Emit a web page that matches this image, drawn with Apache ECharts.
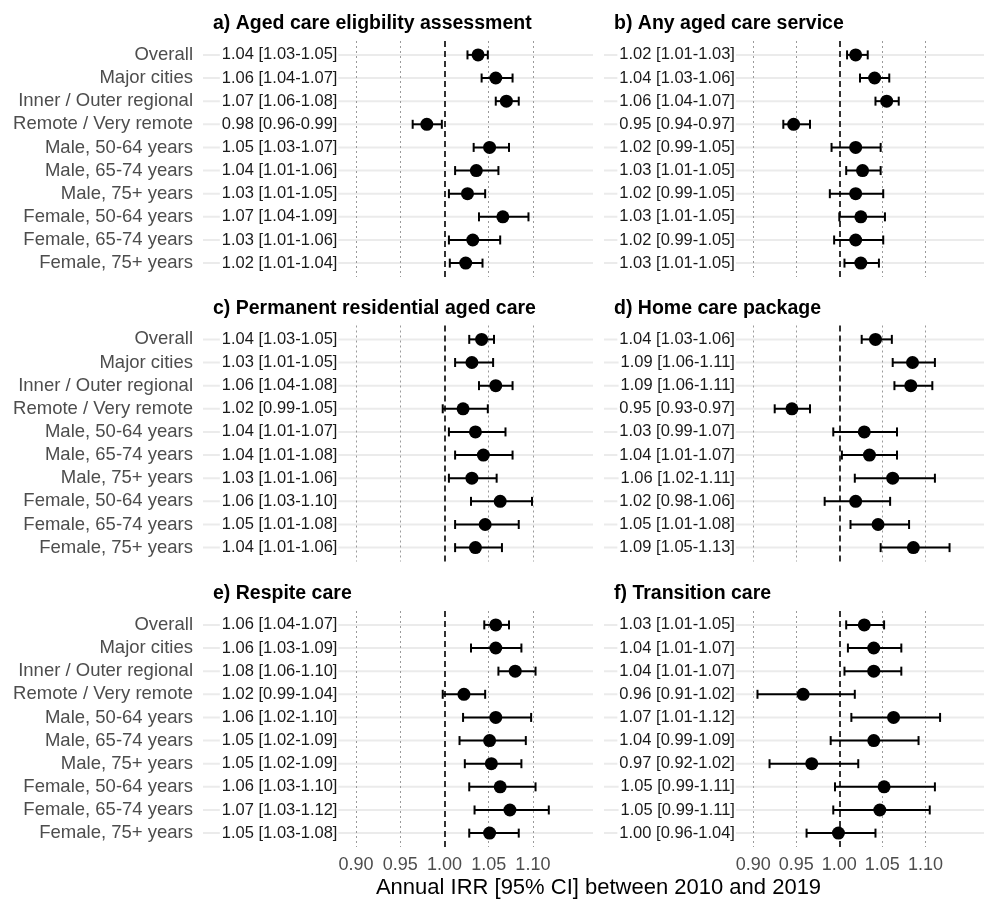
<!DOCTYPE html>
<html>
<head>
<meta charset="utf-8">
<script src="https://cdn.jsdelivr.net/npm/echarts@6/dist/echarts.min.js"></script>
<style>html,body{margin:0;padding:0;background:#fff}#c{width:984px;height:899px}</style>
</head>
<body>
<div id="c"></div>
<script>
const rowLabels = ['Overall','Major cities','Inner / Outer regional','Remote / Very remote','Male, 50-64 years','Male, 65-74 years','Male, 75+ years','Female, 50-64 years','Female, 65-74 years','Female, 75+ years'];
const panelTitles = ['a) Aged care eligbility assessment','b) Any aged care service','c) Permanent residential aged care','d) Home care package','e) Respite care','f) Transition care'];
const xTicks = [0.90, 0.95, 1.00, 1.05, 1.10];
const xAxisTitle = 'Annual IRR [95% CI] between 2010 and 2019';

// a) Aged care eligibility assessment
const estA = [1.038,1.058,1.070,0.980,1.051,1.036,1.026,1.066,1.032,1.024];
const loA  = [1.026,1.042,1.058,0.964,1.033,1.012,1.005,1.039,1.005,1.006];
const hiA  = [1.049,1.077,1.084,0.997,1.073,1.061,1.046,1.095,1.063,1.043];
const txtA = ['1.04 [1.03-1.05]','1.06 [1.04-1.07]','1.07 [1.06-1.08]','0.98 [0.96-0.99]','1.05 [1.03-1.07]','1.04 [1.01-1.06]','1.03 [1.01-1.05]','1.07 [1.04-1.09]','1.03 [1.01-1.06]','1.02 [1.01-1.04]'];
// b) Any aged care service
const estB = [1.019,1.041,1.055,0.947,1.019,1.027,1.019,1.025,1.019,1.025];
const loB  = [1.009,1.024,1.042,0.935,0.991,1.008,0.989,1.000,0.994,1.006];
const hiB  = [1.033,1.058,1.069,0.966,1.048,1.048,1.051,1.053,1.051,1.046];
const txtB = ['1.02 [1.01-1.03]','1.04 [1.03-1.06]','1.06 [1.04-1.07]','0.95 [0.94-0.97]','1.02 [0.99-1.05]','1.03 [1.01-1.05]','1.02 [0.99-1.05]','1.03 [1.01-1.05]','1.02 [0.99-1.05]','1.03 [1.01-1.05]'];
// c) Permanent residential aged care
const estC = [1.042,1.031,1.058,1.021,1.035,1.044,1.031,1.063,1.046,1.035];
const loC  = [1.028,1.012,1.039,0.998,1.005,1.012,1.005,1.030,1.012,1.012];
const hiC  = [1.056,1.055,1.077,1.049,1.069,1.077,1.059,1.099,1.084,1.065];
const txtC = ['1.04 [1.03-1.05]','1.03 [1.01-1.05]','1.06 [1.04-1.08]','1.02 [0.99-1.05]','1.04 [1.01-1.07]','1.04 [1.01-1.08]','1.03 [1.01-1.06]','1.06 [1.03-1.10]','1.05 [1.01-1.08]','1.04 [1.01-1.06]'];
// d) Home care package
const estD = [1.042,1.085,1.083,0.945,1.029,1.035,1.062,1.019,1.045,1.086];
const loD  = [1.026,1.062,1.064,0.925,0.993,1.003,1.018,0.983,1.013,1.048];
const hiD  = [1.061,1.111,1.108,0.966,1.067,1.067,1.111,1.059,1.081,1.128];
const txtD = ['1.04 [1.03-1.06]','1.09 [1.06-1.11]','1.09 [1.06-1.11]','0.95 [0.93-0.97]','1.03 [0.99-1.07]','1.04 [1.01-1.07]','1.06 [1.02-1.11]','1.02 [0.98-1.06]','1.05 [1.01-1.08]','1.09 [1.05-1.13]'];
// e) Respite care
const estE = [1.058,1.058,1.080,1.022,1.058,1.051,1.053,1.063,1.074,1.051];
const loE  = [1.045,1.030,1.061,0.998,1.021,1.017,1.023,1.028,1.034,1.028];
const hiE  = [1.073,1.087,1.103,1.046,1.098,1.092,1.087,1.103,1.118,1.084];
const txtE = ['1.06 [1.04-1.07]','1.06 [1.03-1.09]','1.08 [1.06-1.10]','1.02 [0.99-1.04]','1.06 [1.02-1.10]','1.05 [1.02-1.09]','1.05 [1.02-1.09]','1.06 [1.03-1.10]','1.07 [1.03-1.12]','1.05 [1.03-1.08]'];
// f) Transition care
const estF = [1.029,1.040,1.040,0.958,1.063,1.040,0.968,1.052,1.047,0.999];
const loF  = [1.008,1.010,1.006,0.905,1.014,0.990,0.919,0.995,0.993,0.962];
const hiF  = [1.052,1.072,1.072,1.018,1.117,1.092,1.022,1.111,1.105,1.042];
const txtF = ['1.03 [1.01-1.05]','1.04 [1.01-1.07]','1.04 [1.01-1.07]','0.96 [0.91-1.02]','1.07 [1.01-1.12]','1.04 [0.99-1.09]','0.97 [0.92-1.02]','1.05 [0.99-1.11]','1.05 [0.99-1.11]','1.00 [0.96-1.04]'];

const ciTextX = 0.88;

const panels = [
  {est: estA, lo: loA, hi: hiA, txt: txtA},
  {est: estB, lo: loB, hi: hiB, txt: txtB},
  {est: estC, lo: loC, hi: hiC, txt: txtC},
  {est: estD, lo: loD, hi: hiD, txt: txtD},
  {est: estE, lo: loE, hi: hiE, txt: txtE},
  {est: estF, lo: loF, hi: hiF, txt: txtF}
];

const FONT = '"Liberation Sans", Arial, sans-serif';
const gridLefts = [203, 604];
const gridTops = [41, 325.5, 611];
const gridW = 390, gridH = 236;
const xMin = 0.7268, xMax = 1.168;

const grid = [], xAxis = [], yAxis = [], series = [], title = [];

panels.forEach(function (p, k) {
  const col = k % 2, row = Math.floor(k / 2);
  const left = gridLefts[col], top = gridTops[row];
  grid.push({left: left, top: top, width: gridW, height: gridH, containLabel: false});
  xAxis.push({
    gridIndex: k, type: 'value', min: xMin, max: xMax,
    axisLine: {show: false}, axisTick: {show: false}, splitLine: {show: false},
    axisLabel: {
      show: row === 2, customValues: xTicks, margin: 9,
      color: '#4d4d4d', fontSize: 18, fontFamily: FONT,
      formatter: function (v) { return v.toFixed(2); }
    }
  });
  yAxis.push({
    gridIndex: k, type: 'value', min: -0.6, max: 9.6, inverse: true,
    axisLine: {show: false}, axisTick: {show: false}, splitLine: {show: false},
    axisLabel: {
      show: col === 0, customValues: rowLabels.map(function (_, i) { return i; }),
      margin: 10, color: '#4d4d4d', fontSize: 18.5, fontFamily: FONT,
      formatter: function (v) { return rowLabels[Math.round(v)] || ''; }
    }
  });
  title.push({
    text: panelTitles[k], left: left + 10, top: top - 27, padding: 0,
    textStyle: {fontSize: 19.5, fontWeight: 'bold', color: '#000', fontFamily: FONT}
  });

  // row gridlines + CI text column
  const txt = p.txt;
  series.push({
    type: 'custom', xAxisIndex: k, yAxisIndex: k, z: 1, silent: true, clip: false,
    data: txt.map(function (t, i) { return [ciTextX, i]; }),
    encode: {x: 0, y: 1},
    renderItem: function (params, api) {
      const pt = api.coord([api.value(0), api.value(1)]);
      const cs = params.coordSys;
      return {type: 'group', children: [
        {type: 'line', z2: 0, shape: {x1: cs.x, y1: pt[1], x2: cs.x + cs.width, y2: pt[1]},
          style: {stroke: '#ebebeb', lineWidth: 2}},
        {type: 'text', z2: 1, x: pt[0], y: pt[1],
          style: {text: txt[params.dataIndex], fill: '#1a1a1a', font: '16.5px ' + FONT,
            align: 'right', verticalAlign: 'middle', backgroundColor: '#fff', padding: [1, 1, 1, 2]}}
      ]};
    }
  });
  series.push({
    type: 'scatter', xAxisIndex: k, yAxisIndex: k, data: [], z: 2, silent: true,
    markLine: {
      silent: true, symbol: 'none', label: {show: false}, animation: false,
      lineStyle: {color: '#9a9a9a', width: 1, type: [2, 3]},
      data: xTicks.filter(function (v) { return v !== 1; }).map(function (v) { return {xAxis: v}; })
    }
  });
  series.push({
    type: 'scatter', xAxisIndex: k, yAxisIndex: k, data: [], z: 3, silent: true,
    markLine: {
      silent: true, symbol: 'none', label: {show: false}, animation: false,
      lineStyle: {color: '#000', width: 1.6, type: [6, 4]},
      data: [{xAxis: 1}]
    }
  });
  // error bars
  series.push({
    type: 'custom', xAxisIndex: k, yAxisIndex: k, z: 5, silent: true,
    data: p.lo.map(function (l, i) { return [i, l, p.hi[i]]; }),
    encode: {x: [1, 2], y: 0},
    renderItem: function (params, api) {
      const y = api.value(0), lo = api.value(1), hi = api.value(2);
      const a = api.coord([lo, y]), b = api.coord([hi, y]);
      const h = 4.5, st = {stroke: '#000', lineWidth: 2};
      return {type: 'group', children: [
        {type: 'line', shape: {x1: a[0], y1: a[1], x2: b[0], y2: b[1]}, style: st},
        {type: 'line', shape: {x1: a[0], y1: a[1] - h, x2: a[0], y2: a[1] + h}, style: st},
        {type: 'line', shape: {x1: b[0], y1: b[1] - h, x2: b[0], y2: b[1] + h}, style: st}
      ]};
    }
  });
  // point estimates
  series.push({
    type: 'scatter', xAxisIndex: k, yAxisIndex: k, z: 6, silent: true,
    symbol: 'circle', symbolSize: 13, itemStyle: {color: '#000', opacity: 1},
    data: p.est.map(function (e, i) { return [e, i]; })
  });
});

title.push({
  text: xAxisTitle, left: 598.5, top: 877, textAlign: 'center', padding: 0,
  textStyle: {fontSize: 22, fontWeight: 'normal', color: '#000', fontFamily: FONT}
});

const chart = echarts.init(document.getElementById('c'), null, {renderer: 'canvas'});
chart.setOption({
  animation: false,
  backgroundColor: '#fff',
  title: title, grid: grid, xAxis: xAxis, yAxis: yAxis, series: series
});
</script>
</body>
</html>
